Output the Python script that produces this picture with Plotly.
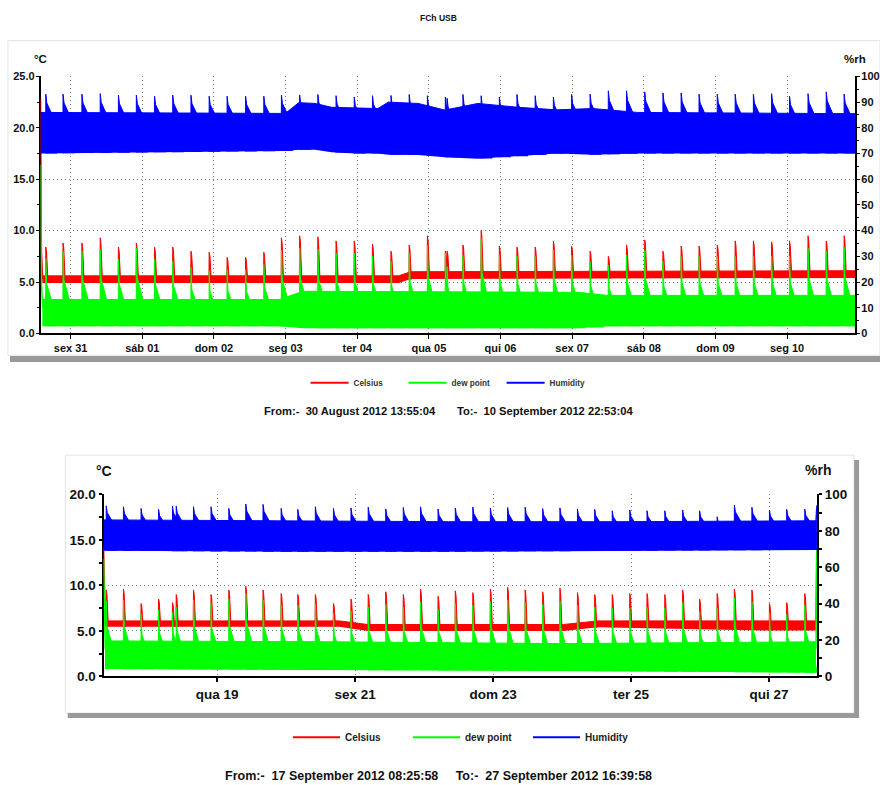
import datetime as dt
import numpy as np
import plotly.graph_objects as go

# ---------------- data: upper chart ----------------
top_start = "2012-08-30 13:55:04"
top_end = "2012-09-10 22:53:04"
top_tickvals = ["2012-08-31", "2012-09-01", "2012-09-02", "2012-09-03", "2012-09-04", "2012-09-05",
                "2012-09-06", "2012-09-07", "2012-09-08", "2012-09-09", "2012-09-10"]
top_ticktext = ["sex 31", "sáb 01", "dom 02", "seg 03", "ter 04", "qua 05",
                "qui 06", "sex 07", "sáb 08", "dom 09", "seg 10"]

# hours after start at which the defrost peaks occur
top_spike_h = [1.77, 7.54, 13.87, 20.0, 26.1, 32.1, 38.2, 44.3, 50.4, 56.5, 62.5, 68.7, 74.8, 80.7,
               86.8, 92.9, 99.0, 105.1, 111.2, 117.4, 123.5, 129.6, 135.6, 136.2, 141.5, 147.6,
               153.7, 159.6, 165.7, 171.8, 177.9, 184.1, 190.2, 196.3, 202.4, 208.5, 214.6, 220.6,
               226.7, 232.7, 238.8, 244.9, 250.9, 257.1, 263.2, 269.2]
top_celsius_peak = [8.4, 8.8, 8.8, 9.3, 8.4, 8.8, 8.4, 8.4, 8.0, 7.9, 7.4, 7.4, 7.9, 9.3,
                    9.5, 9.4, 9.0, 9.0, 8.7, 8.0, 8.6, 9.5, 8.0, 8.0, 8.6, 10.0,
                    8.5, 8.4, 8.4, 9.0, 8.5, 8.0, 7.5, 8.6, 9.1, 8.0, 8.5, 8.5,
                    8.6, 9.0, 9.0, 8.9, 9.0, 9.5, 9.0, 9.5]
top_dew_peak = [7.3, 8.0, 8.0, 8.2, 7.2, 8.3, 7.2, 7.0, 6.4, 6.1, 6.2, 6.2, 6.7, 8.1,
                8.3, 8.2, 7.8, 7.8, 7.5, 7.0, 7.8, 8.6, 7.8, 6.5, 7.6, 9.2,
                7.6, 7.5, 7.5, 8.1, 7.6, 7.0, 6.6, 7.6, 8.1, 7.0, 7.5, 7.5,
                7.5, 7.5, 7.5, 7.5, 7.5, 8.3, 8.0, 8.4]
top_hum_peak = [93.1, 93.1, 93.1, 93.3, 92.7, 92.7, 92.3, 92.7, 92.7, 92.3, 92.3, 92.3, 92.3, 92.7,
                92.8, 93.0, 92.5, 92.0, 92.5, 92.6, 93.0, 92.5, 92.0, 91.5, 93.0, 92.5,
                92.0, 93.0, 92.5, 92.0, 93.0, 93.1, 94.4, 94.4, 94.0, 93.6, 93.6, 93.1,
                93.1, 93.1, 93.1, 93.3, 92.3, 93.3, 94.0, 93.1]

# normal operating range between the peaks
top_celsius_band_h = [0.6, 120.0, 124.0, 272.97]
top_celsius_lo = [4.9, 4.9, 5.3, 5.4]
top_celsius_hi = [5.6, 5.6, 6.0, 6.1]
top_dew_band_h = [0.6, 80.0, 88.0, 180.0, 190.0, 272.97]
top_dew_lo = [0.7, 0.7, 0.5, 0.5, 0.7, 0.7]
top_dew_hi = [3.3, 3.3, 4.1, 4.0, 3.7, 3.7]
top_hum_band_h = [0.0, 82.0, 86.5, 92.0, 97.5, 105.5, 113.0, 116.5, 126.5, 135.5, 146.5,
                  160.0, 173.0, 185.0, 200.0, 272.97]
top_hum_lo = [70.0, 71.0, 71.5, 71.5, 70.5, 70.0, 70.0, 69.5, 69.4, 68.6, 68.0,
              69.0, 70.0, 69.5, 70.0, 70.0]
top_hum_hi = [86.0, 85.6, 89.8, 89.5, 88.0, 87.8, 87.5, 90.0, 89.5, 86.9, 89.5,
              88.0, 87.0, 87.5, 86.0, 85.5]

# first readings (logger still warm)
top_init_h = [0.0, 0.3, 0.7]
top_init_celsius = [22.8, 8.0, 5.3]
top_init_dew = [16.4, 5.0, 2.5]

# ---------------- data: lower chart ----------------
bot_start = "2012-09-17 08:25:58"
bot_end = "2012-09-27 16:39:58"
bot_tickvals = ["2012-09-19", "2012-09-21", "2012-09-23", "2012-09-25", "2012-09-27"]
bot_ticktext = ["qua 19", "sex 21", "dom 23", "ter 25", "qui 27"]

bot_spike_h = [0.94, 6.93, 13.06, 19.15, 24.0, 25.3, 31.3, 37.4, 43.6, 49.5, 55.5, 61.8, 67.6, 73.7,
               80.0, 86.1, 92.1, 98.2, 104.3, 110.3, 116.4, 122.4, 128.5, 134.6, 140.6, 146.7,
               152.8, 158.8, 164.9, 170.9, 177.0, 183.1, 189.1, 195.3, 201.5, 207.4, 213.5,
               219.5, 225.6, 231.7, 237.7, 244.0]
bot_celsius_peak = [9.5, 9.6, 8.0, 8.5, 8.1, 9.0, 9.5, 9.0, 9.5, 9.9, 9.5, 9.1, 9.0, 9.0,
                    8.0, 8.5, 9.0, 9.3, 9.0, 9.6, 8.8, 9.4, 9.2, 9.6, 9.8, 9.5,
                    9.3, 9.7, 9.2, 9.0, 9.0, 9.1, 9.1, 9.0, 9.5, 8.5, 9.1,
                    9.6, 9.5, 8.0, 8.1, 9.1]
bot_dew_peak = [8.3, 8.4, 6.9, 7.3, 7.0, 7.6, 8.4, 8.0, 8.5, 9.1, 8.4, 7.8, 7.8, 8.0,
                6.9, 7.2, 7.6, 7.9, 7.6, 8.2, 7.4, 8.0, 7.8, 8.2, 8.4, 8.1,
                7.9, 8.3, 7.8, 7.6, 7.5, 7.5, 7.6, 7.5, 8.1, 7.1, 7.5,
                8.6, 8.2, 7.0, 6.8, 7.8]
bot_hum_peak = [93.7, 93.2, 92.3, 91.8, 93.5, 93.5, 93.2, 93.2, 92.3, 94.7, 94.5, 92.3, 91.8, 93.2,
                92.3, 92.5, 93.0, 92.0, 92.8, 93.2, 92.0, 92.5, 93.0, 92.4, 92.8, 93.0,
                92.2, 92.6, 92.0, 91.8, 91.0, 91.4, 91.0, 91.0, 91.4, 91.0, 87.7,
                94.1, 92.9, 91.4, 91.8, 91.9]

bot_celsius_band_h = [0.5, 82.0, 92.0, 160.0, 172.0, 230.0, 247.9]
bot_celsius_lo = [5.45, 5.45, 5.0, 5.0, 5.4, 5.05, 5.05]
bot_celsius_hi = [6.1, 6.1, 5.7, 5.7, 6.1, 6.1, 6.1]
bot_dew_band_h = [0.5, 80.0, 160.0, 247.9]
bot_dew_lo = [0.8, 0.7, 0.6, 0.4]
bot_dew_hi = [3.9, 3.8, 3.6, 3.8]
bot_hum_band_h = [0.0, 60.0, 120.0, 180.0, 248.23]
bot_hum_lo = [69.0, 68.5, 68.5, 69.0, 69.5]
bot_hum_hi = [86.0, 85.5, 85.0, 85.0, 85.5]

bot_init_h = [0.0, 0.3, 0.6]
bot_init_celsius = [14.2, 9.5, 5.8]
bot_init_dew = [12.9, 6.0, 3.0]
bot_final_h = [247.9, 248.23]
bot_final_celsius = [5.8, 15.9]
bot_final_dew = [3.0, 15.2]
bot_final_hum = [85.0, 94.0]

series_names = ["Celsius", "dew point", "Humidity"]

# ---------------- styling ----------------
RED, GREEN, BLUE = "#ff0000", "#00ff00", "#0000ff"
FONT = "Liberation Sans, Arial, Helvetica, sans-serif"
W, H = 880, 785
# vertical placement correction (page is photographed slightly squeezed vertically)
V_SCALE, V_OFFSET = 0.981, 6.85
# peak glyphs: (hours offset, fraction of the way from band floor to peak)
GLYPH_C = [(-0.1, 0.0), (0.0, 1.0), (0.25, 0.88), (0.75, 0.0)]
GLYPH_D = [(-0.05, 0.0), (0.0, 1.0), (0.3, 0.62), (4.5, 0.0)]
GLYPH_H = [(-0.05, 0.0), (0.0, 1.0), (0.35, 0.85), (3.5, 0.5), (3.6, 0.0)]


def px(x):
    return x / W


def py(y):
    return 1 - ((y - V_OFFSET) / V_SCALE) / H


def to_dt(start, hours):
    s = dt.datetime.fromisoformat(start)
    return [s + dt.timedelta(hours=float(h)) for h in hours]


def spikes(start, spike_h, peaks, band_h, band_lo, glyph):
    s = dt.datetime.fromisoformat(start)
    xs, ys = [], []
    for h, p in zip(spike_h, peaks):
        base = float(np.interp(h, band_h, band_lo))
        for dh, f in glyph:
            xs.append(s + dt.timedelta(hours=h + dh))
            ys.append(base + f * (p - base))
        xs.append(None)
        ys.append(None)
    return xs, ys


def add_series(fig, start, band_h, lo, hi, spike_h, peaks, glyph, color, xa, ya):
    bx = to_dt(start, band_h)
    fig.add_trace(go.Scatter(x=bx, y=lo, mode="lines", line=dict(width=0, color=color),
                             showlegend=False, hoverinfo="skip", xaxis=xa, yaxis=ya))
    fig.add_trace(go.Scatter(x=bx, y=hi, mode="lines", line=dict(width=1, color=color),
                             fill="tonexty", fillcolor=color,
                             showlegend=False, hoverinfo="skip", xaxis=xa, yaxis=ya))
    sx, sy = spikes(start, spike_h, peaks, band_h, lo, glyph)
    fig.add_trace(go.Scatter(x=sx, y=sy, mode="lines", line=dict(width=1, color=color),
                             fill="toself", fillcolor=color,
                             showlegend=False, hoverinfo="skip", xaxis=xa, yaxis=ya))


def add_line(fig, start, hours, vals, color, xa, ya):
    fig.add_trace(go.Scatter(x=to_dt(start, hours), y=vals, mode="lines",
                             line=dict(width=1.5, color=color),
                             showlegend=False, hoverinfo="skip", xaxis=xa, yaxis=ya))


fig = go.Figure()

# upper chart
add_series(fig, top_start, top_hum_band_h, top_hum_lo, top_hum_hi, top_spike_h, top_hum_peak,
           GLYPH_H, BLUE, "x", "y2")
add_series(fig, top_start, top_celsius_band_h, top_celsius_lo, top_celsius_hi, top_spike_h,
           top_celsius_peak, GLYPH_C, RED, "x", "y")
add_line(fig, top_start, top_init_h, top_init_celsius, RED, "x", "y")
add_series(fig, top_start, top_dew_band_h, top_dew_lo, top_dew_hi, top_spike_h, top_dew_peak,
           GLYPH_D, GREEN, "x", "y")
add_line(fig, top_start, top_init_h, top_init_dew, GREEN, "x", "y")

# lower chart
add_series(fig, bot_start, bot_hum_band_h, bot_hum_lo, bot_hum_hi, bot_spike_h, bot_hum_peak,
           GLYPH_H, BLUE, "x2", "y4")
add_line(fig, bot_start, bot_final_h, bot_final_hum, BLUE, "x2", "y4")
add_series(fig, bot_start, bot_celsius_band_h, bot_celsius_lo, bot_celsius_hi, bot_spike_h,
           bot_celsius_peak, GLYPH_C, RED, "x2", "y3")
add_line(fig, bot_start, bot_init_h, bot_init_celsius, RED, "x2", "y3")
add_line(fig, bot_start, bot_final_h, bot_final_celsius, RED, "x2", "y3")
add_series(fig, bot_start, bot_dew_band_h, bot_dew_lo, bot_dew_hi, bot_spike_h, bot_dew_peak,
           GLYPH_D, GREEN, "x2", "y3")
add_line(fig, bot_start, bot_init_h, bot_init_dew, GREEN, "x2", "y3")
add_line(fig, bot_start, bot_final_h, bot_final_dew, GREEN, "x2", "y3")

# legend entries
for name, color in zip(series_names, [RED, GREEN, BLUE]):
    fig.add_trace(go.Scatter(x=[None], y=[None], mode="lines", name=name,
                             line=dict(color=color, width=2), legend="legend",
                             xaxis="x", yaxis="y"))
for name, color in zip(series_names, [RED, GREEN, BLUE]):
    fig.add_trace(go.Scatter(x=[None], y=[None], mode="lines", name=name,
                             line=dict(color=color, width=2), legend="legend2",
                             xaxis="x2", yaxis="y3"))

GRID = dict(showgrid=True, gridcolor="#7a7a7a", gridwidth=1, griddash="1px,3px", zeroline=False)
small = dict(family=FONT, size=11, color="#111", weight="bold")
big = dict(family=FONT, size=13.5, color="#111", weight="bold")

fig.update_layout(
    width=W, height=H, margin=dict(l=0, r=0, t=0, b=0),
    paper_bgcolor="white", plot_bgcolor="white",
    xaxis=dict(domain=[px(40.7), px(859.3)], type="date", range=[top_start, top_end],
               tickvals=top_tickvals, ticktext=top_ticktext, ticks="outside", ticklen=4,
               tickcolor="black", showline=True, linecolor="black", linewidth=1.5,
               tickfont=small, anchor="y", **GRID),
    yaxis=dict(domain=[py(333.3), py(76.3)], range=[0, 25], tickvals=[0, 5, 10, 15, 20, 25],
               tickformat=".1f", ticks="outside", ticklen=3, tickcolor="black",
               minor=dict(dtick=2.5, ticks="outside", ticklen=2, tickcolor="black", showgrid=False),
               showline=True, linecolor="black", linewidth=1.5, layer="below traces",
               tickfont=small, anchor="x", ticklabelstandoff=-1, **GRID),
    yaxis2=dict(overlaying="y", side="right", range=[0, 100], tickvals=list(range(0, 101, 10)),
                ticks="outside", ticklen=3, tickcolor="black",
                minor=dict(dtick=5, ticks="outside", ticklen=2, tickcolor="black", showgrid=False),
                showline=True, linecolor="black", linewidth=1.5, showgrid=False, zeroline=False,
                tickfont=small, anchor="x", ticklabelstandoff=-1),
    xaxis2=dict(domain=[px(104), px(820.7)], type="date", range=[bot_start, bot_end],
                tickvals=bot_tickvals, ticktext=bot_ticktext, ticks="outside", ticklen=4,
                tickcolor="black", tickwidth=2, showline=True, linecolor="black", linewidth=2,
                tickfont=big, anchor="y3", **GRID),
    yaxis3=dict(domain=[py(676.3), py(494.3)], range=[0, 20], tickvals=[0, 5, 10, 15, 20],
                tickformat=".1f", ticks="outside", ticklen=3, tickcolor="black", tickwidth=2,
                minor=dict(dtick=2.5, ticks="outside", ticklen=3, tickcolor="black", showgrid=False),
                showline=True, linecolor="black", linewidth=2, layer="below traces",
                tickfont=big, anchor="x2", **GRID),
    yaxis4=dict(overlaying="y3", side="right", range=[0, 100], tickvals=list(range(0, 101, 20)),
                ticks="outside", ticklen=3, tickcolor="black", tickwidth=2,
                minor=dict(dtick=10, ticks="outside", ticklen=3, tickcolor="black", showgrid=False),
                showline=True, linecolor="black", linewidth=2, showgrid=False, zeroline=False,
                layer="below traces", tickfont=big, anchor="x2"),
    legend=dict(orientation="h", x=px(307), y=py(382.7), xanchor="left", yanchor="middle",
                font=dict(family=FONT, size=8.2, color="#333", weight="bold"),
                entrywidth=45, entrywidthmode="pixels", itemwidth=38,
                bgcolor="rgba(0,0,0,0)", traceorder="normal"),
    legend2=dict(orientation="h", x=px(289.3), y=py(737.3), xanchor="left", yanchor="middle",
                 font=dict(family=FONT, size=10, color="#222", weight="bold"),
                 entrywidth=58, entrywidthmode="pixels", itemwidth=47,
                 bgcolor="rgba(0,0,0,0)", traceorder="normal"),
)

NB = "\u00a0"
annotations = [
    dict(text="FCh USB", x=px(440), y=py(18), font=dict(family=FONT, size=8.5, color="#111", weight="bold")),
    dict(text="°C", x=px(40.5), y=py(58.5), font=dict(family=FONT, size=11.5, color="#111", weight="bold")),
    dict(text="%rh", x=px(859), y=py(58.5), font=dict(family=FONT, size=11.5, color="#111", weight="bold")),
    dict(text="From:-" + NB * 2 + "30 August 2012 13:55:04" + NB * 7 + "To:-" + NB * 2 + "10 September 2012 22:53:04",
         x=px(451), y=py(411), font=dict(family=FONT, size=11.2, color="#111", weight="bold")),
    dict(text="°C", x=px(104.5), y=py(470.5), font=dict(family=FONT, size=14, color="#111", weight="bold")),
    dict(text="%rh", x=px(821.5), y=py(470), font=dict(family=FONT, size=14, color="#111", weight="bold")),
    dict(text="From:-" + NB * 2 + "17 September 2012 08:25:58" + NB * 5 + "To:-" + NB * 2 + "27 September 2012 16:39:58",
         x=px(441), y=py(776), font=dict(family=FONT, size=12.5, color="#111", weight="bold")),
]
for a in annotations:
    a.update(xref="paper", yref="paper", showarrow=False, xanchor="center", yanchor="middle")
fig.update_layout(annotations=annotations)

SHADOW = "#9a9a9a"
BORDER = "#e4e4e4"
shapes = [
    dict(type="rect", x0=px(8), x1=px(884), y0=py(355), y1=py(40.5), line=dict(color=BORDER, width=1)),
    dict(type="rect", x0=px(10), x1=px(884), y0=py(362), y1=py(356), fillcolor=SHADOW, line=dict(width=0)),
    dict(type="rect", x0=px(65.7), x1=px(858), y0=py(713), y1=py(455), line=dict(color=BORDER, width=1)),
    dict(type="rect", x0=px(858), x1=px(863), y0=py(718), y1=py(460), fillcolor=SHADOW, line=dict(width=0)),
    dict(type="rect", x0=px(68), x1=px(863), y0=py(718), y1=py(713), fillcolor=SHADOW, line=dict(width=0)),
]
for s in shapes:
    s.update(xref="paper", yref="paper", layer="below")
fig.update_layout(shapes=shapes)

fig.write_html("out.html", config={"displayModeBar": False})
